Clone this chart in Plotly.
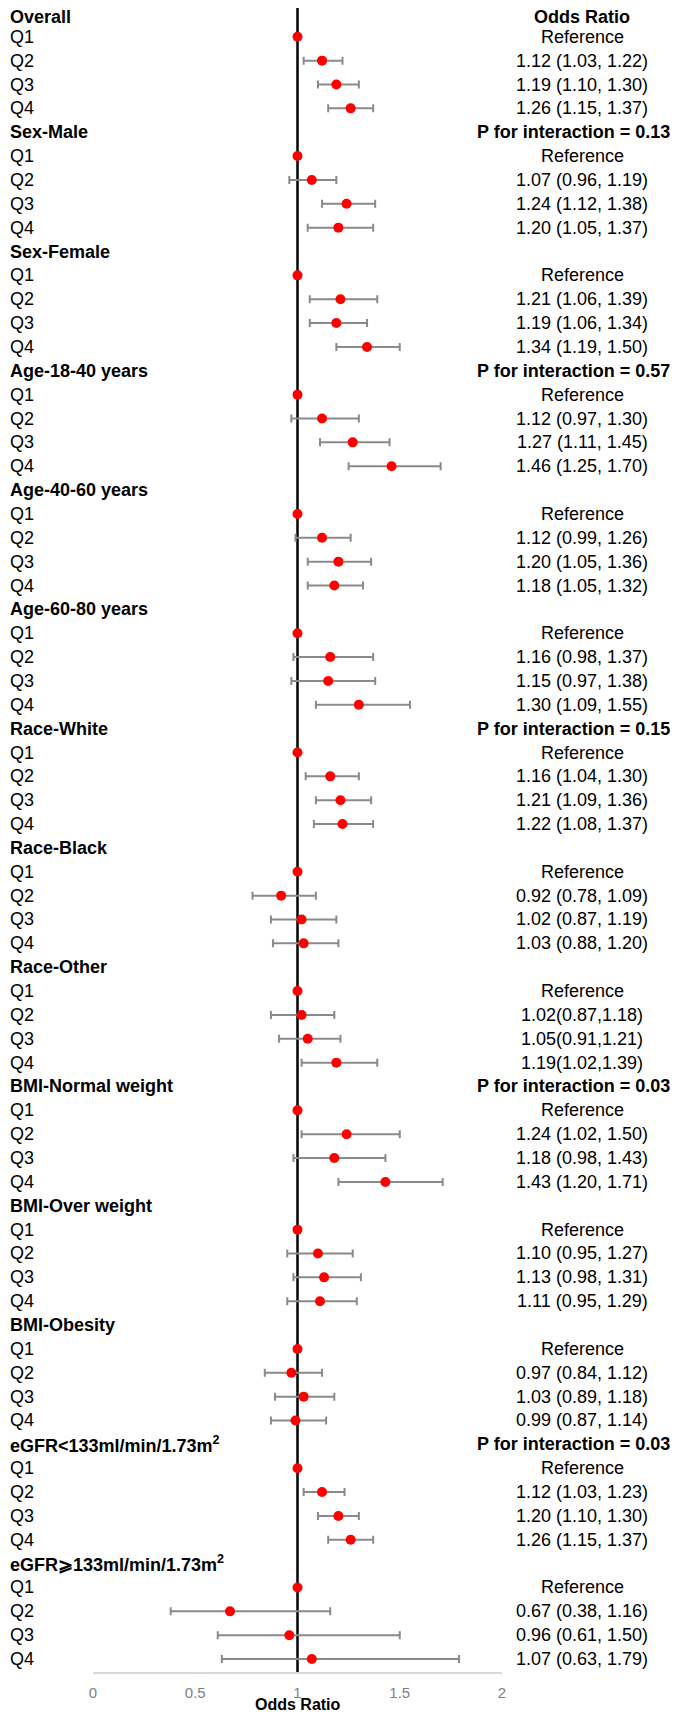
import plotly.graph_objects as go

groups = ["Overall", "Sex-Male", "Sex-Female", "Age-18-40 years", "Age-40-60 years",
          "Age-60-80 years", "Race-White", "Race-Black", "Race-Other",
          "BMI-Normal weight", "BMI-Over weight", "BMI-Obesity",
          "eGFR<133ml/min/1.73m<sup>2</sup>", "eGFR⩾133ml/min/1.73m<sup>2</sup>"]
group_right = ["Odds Ratio", "P for interaction = 0.13", "", "P for interaction = 0.57", "",
               "", "P for interaction = 0.15", "", "",
               "P for interaction = 0.03", "", "",
               "P for interaction = 0.03", ""]
quartiles = ["Q1", "Q2", "Q3", "Q4"]
reference_or = 1.0
reference_label = "Reference"

# Q2, Q3, Q4 per group
or_vals = [[1.12, 1.19, 1.26], [1.07, 1.24, 1.20], [1.21, 1.19, 1.34], [1.12, 1.27, 1.46],
           [1.12, 1.20, 1.18], [1.16, 1.15, 1.30], [1.16, 1.21, 1.22], [0.92, 1.02, 1.03],
           [1.02, 1.05, 1.19], [1.24, 1.18, 1.43], [1.10, 1.13, 1.11], [0.97, 1.03, 0.99],
           [1.12, 1.20, 1.26], [0.67, 0.96, 1.07]]
lo_vals = [[1.03, 1.10, 1.15], [0.96, 1.12, 1.05], [1.06, 1.06, 1.19], [0.97, 1.11, 1.25],
           [0.99, 1.05, 1.05], [0.98, 0.97, 1.09], [1.04, 1.09, 1.08], [0.78, 0.87, 0.88],
           [0.87, 0.91, 1.02], [1.02, 0.98, 1.20], [0.95, 0.98, 0.95], [0.84, 0.89, 0.87],
           [1.03, 1.10, 1.15], [0.38, 0.61, 0.63]]
hi_vals = [[1.22, 1.30, 1.37], [1.19, 1.38, 1.37], [1.39, 1.34, 1.50], [1.30, 1.45, 1.70],
           [1.26, 1.36, 1.32], [1.37, 1.38, 1.55], [1.30, 1.36, 1.37], [1.09, 1.19, 1.20],
           [1.18, 1.21, 1.39], [1.50, 1.43, 1.71], [1.27, 1.31, 1.29], [1.12, 1.18, 1.14],
           [1.23, 1.30, 1.37], [1.16, 1.50, 1.79]]
or_labels = [["1.12 (1.03, 1.22)", "1.19 (1.10, 1.30)", "1.26 (1.15, 1.37)"],
             ["1.07 (0.96, 1.19)", "1.24 (1.12, 1.38)", "1.20 (1.05, 1.37)"],
             ["1.21 (1.06, 1.39)", "1.19 (1.06, 1.34)", "1.34 (1.19, 1.50)"],
             ["1.12 (0.97, 1.30)", "1.27 (1.11, 1.45)", "1.46 (1.25, 1.70)"],
             ["1.12 (0.99, 1.26)", "1.20 (1.05, 1.36)", "1.18 (1.05, 1.32)"],
             ["1.16 (0.98, 1.37)", "1.15 (0.97, 1.38)", "1.30 (1.09, 1.55)"],
             ["1.16 (1.04, 1.30)", "1.21 (1.09, 1.36)", "1.22 (1.08, 1.37)"],
             ["0.92 (0.78, 1.09)", "1.02 (0.87, 1.19)", "1.03 (0.88, 1.20)"],
             ["1.02(0.87,1.18)", "1.05(0.91,1.21)", "1.19(1.02,1.39)"],
             ["1.24 (1.02, 1.50)", "1.18 (0.98, 1.43)", "1.43 (1.20, 1.71)"],
             ["1.10 (0.95, 1.27)", "1.13 (0.98, 1.31)", "1.11 (0.95, 1.29)"],
             ["0.97 (0.84, 1.12)", "1.03 (0.89, 1.18)", "0.99 (0.87, 1.14)"],
             ["1.12 (1.03, 1.23)", "1.20 (1.10, 1.30)", "1.26 (1.15, 1.37)"],
             ["0.67 (0.38, 1.16)", "0.96 (0.61, 1.50)", "1.07 (0.63, 1.79)"]]
x_ticks = [0, 0.5, 1, 1.5, 2]
x_tick_labels = ["0", "0.5", "1", "1.5", "2"]
x_title = "Odds Ratio"

n_rows = len(groups) * 5

# page has an 8px body margin; figure is sized to fit inside it (no scrolling)
FIG_W, FIG_H = 664, 1704
M_L, M_R, M_T, M_B = 85, 170, 0, 40
PLOT_W = FIG_W - M_L - M_R
PLOT_H = FIG_H - M_T - M_B

FONT = "Liberation Sans, Arial, sans-serif"
NARROW = "Liberation Sans Narrow, Arial Narrow, Liberation Sans, sans-serif"
LEFT_X = -M_L / PLOT_W
RIGHT_X = (574 - M_L) / PLOT_W
RIGHT_EDGE = (FIG_W - M_L) / PLOT_W

ref_y, ref_x = [], []
pt_y, pt_x, err_plus, err_minus = [], [], [], []
annotations = []

for g, name in enumerate(groups):
    hy = g * 5
    ys = -4 if g == 0 else 0
    annotations.append(dict(x=LEFT_X, y=hy, xref="paper", yref="y", text="<b>" + name + "</b>",
                            showarrow=False, xanchor="left", yanchor="middle", yshift=ys,
                            font=dict(family=FONT, size=18, color="black")))
    if group_right[g]:
        is_p = group_right[g].startswith("P")
        annotations.append(dict(x=RIGHT_EDGE if is_p else RIGHT_X, y=hy, xref="paper", yref="y",
                                text="<b>" + group_right[g] + "</b>", showarrow=False,
                                xanchor="right" if is_p else "center", yanchor="middle",
                                yshift=ys, font=dict(family=FONT, size=18, color="black")))
    for q, qn in enumerate(quartiles):
        y = hy + 1 + q
        annotations.append(dict(x=LEFT_X, y=y, xref="paper", yref="y", text=qn,
                                showarrow=False, xanchor="left", yanchor="middle",
                                font=dict(family=FONT, size=18, color="black")))
        if q == 0:
            ref_y.append(y)
            ref_x.append(reference_or)
            annotations.append(dict(x=RIGHT_X, y=y, xref="paper", yref="y", text=reference_label,
                                    showarrow=False, xanchor="center", yanchor="middle",
                                    font=dict(family=FONT, size=18, color="black")))
        else:
            v = or_vals[g][q - 1]
            pt_y.append(y)
            pt_x.append(v)
            err_plus.append(hi_vals[g][q - 1] - v)
            err_minus.append(v - lo_vals[g][q - 1])
            annotations.append(dict(x=RIGHT_X, y=y, xref="paper", yref="y",
                                    text=or_labels[g][q - 1],
                                    showarrow=False, xanchor="center", yanchor="middle",
                                    font=dict(family=NARROW, size=18, color="black")))

annotations.append(dict(x=0.5, y=-32 / PLOT_H, xref="paper", yref="paper",
                        text="<b>" + x_title + "</b>", showarrow=False, xanchor="center",
                        yanchor="middle", borderpad=0,
                        font=dict(family=FONT, size=16, color="black")))

fig = go.Figure()
fig.add_trace(go.Scatter(
    x=pt_x, y=pt_y, mode="markers",
    marker=dict(color="#ff0000", size=10, line=dict(width=0)),
    error_x=dict(type="data", symmetric=False, array=err_plus, arrayminus=err_minus,
                 color="#8a8a8a", thickness=2, width=4),
    showlegend=False, hoverinfo="skip"))
fig.add_trace(go.Scatter(
    x=ref_x, y=ref_y, mode="markers",
    marker=dict(color="#ff0000", size=10, line=dict(width=0)),
    showlegend=False, hoverinfo="skip"))

fig.add_shape(type="line", x0=1, x1=1, y0=0, y1=1, xref="x", yref="paper",
              line=dict(color="black", width=2.5), layer="below")

row_h = 23.857
y_top = (8 - 1) / row_h - 0.5
y_bot = y_top + PLOT_H / row_h

fig.update_layout(
    width=FIG_W, height=FIG_H,
    margin=dict(l=M_L, r=M_R, t=M_T, b=M_B, pad=0),
    paper_bgcolor="white", plot_bgcolor="white",
    annotations=annotations,
    xaxis=dict(range=[0, 2], tickvals=x_ticks, ticktext=x_tick_labels,
               showgrid=False, zeroline=False, showline=True, linecolor="#d9d9d9",
               linewidth=1.5, ticks="outside", ticklen=6, tickcolor="rgba(0,0,0,0)",
               tickfont=dict(family=NARROW, size=15, color="#808080"), fixedrange=True),
    yaxis=dict(range=[y_bot, y_top], visible=False, showgrid=False, zeroline=False,
               fixedrange=True),
)

fig.write_html("out.html")
